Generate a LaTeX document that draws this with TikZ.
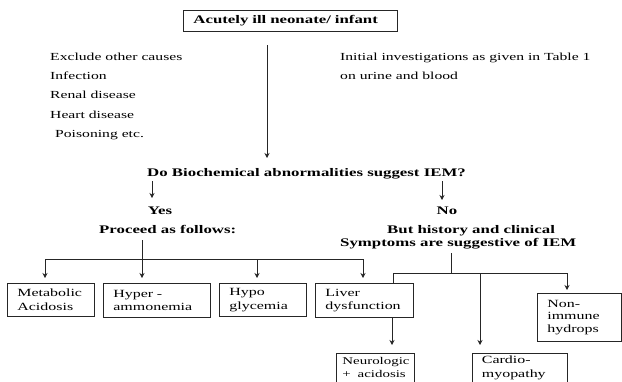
\documentclass[tikz,border=0pt]{standalone}
\usepackage{fontspec}
\setmainfont{Liberation Serif}[FakeStretch=1.45]
\usetikzlibrary{arrows.meta}
\tikzset{
  ln/.style={line width=0.8pt, draw=black!85},
  arr/.style={ln, -{Stealth[length=5pt,width=5pt]}},
  txt/.style={inner sep=0pt, anchor=base west, font=\fontsize{10.8}{13}\selectfont},
  btxt/.style={inner sep=0pt, anchor=base west, font=\fontsize{11.6}{13}\selectfont\bfseries},
  ibox/.style={draw=black!85, line width=0.8pt, anchor=north west, align=left,
    inner xsep=10pt, inner ysep=0pt, font=\fontsize{11}{13.5}\selectfont}
}
\begin{document}
\begin{tikzpicture}[x=1pt,y=-1pt]
\useasboundingbox (0,0) rectangle (622,381);
\clip (0,0) rectangle (622,381);
% top box
\node[ibox, font=\fontsize{11.6}{13}\selectfont\bfseries, minimum width=214pt, minimum height=21pt, text width=194pt] (top) at (183,10) {Acutely ill neonate/ infant};
% left list
\node[txt] (ex) at (50,60) {Exclude other causes};
\node[txt] (inf) at (50,79.3) {Infection};
\node[txt] (ren) at (50,98.6) {Renal disease};
\node[txt] (hrt) at (50,118) {Heart disease};
\node[txt] (poi) at (55,137.3) {Poisoning etc.};
% right list
\node[txt] (ini) at (340,60) {Initial investigations as given in Table 1};
\node[txt] (uri) at (340,79.3) {on urine and blood};
% question
\node[btxt] (q) at (147,176.5) {Do Biochemical abnormalities suggest IEM?};
\coordinate (mainS) at (267,45);
\coordinate (mainE) at (267,158);
\draw[arr] (mainS) -- (mainE);
% yes / no
\node[btxt, anchor=base] (yes) at (160,214) {Yes};
\node[btxt] (proc) at (99,233.3) {Proceed as follows:};
\node[btxt, anchor=base] (no) at (447,214) {No};
\node[btxt] (but1) at (387,233.3) {But history and clinical};
\node[btxt] (but2) at (340,246.3) {Symptoms are suggestive of IEM};
\coordinate (yS) at (152,181);
\coordinate (yE) at (152,198);
\coordinate (nS) at (442,181);
\coordinate (nE) at (442,200);
\draw[arr] (yS) -- (yE);
\draw[arr] (nS) -- (nE);
% boxes row 1
\node[ibox, minimum width=87pt, minimum height=33pt, text width=67pt] (met) at (7,283) {Metabolic\\Acidosis};
\node[ibox, minimum width=107pt, minimum height=34pt, text width=87pt] (hyp) at (103,283) {Hyper -\\ammonemia};
\node[ibox, minimum width=87pt, minimum height=33pt, text width=67pt] (gly) at (219,283) {Hypo\\glycemia};
\node[ibox, minimum width=98pt, minimum height=34pt, text width=78pt] (liv) at (315,283) {Liver\\dysfunction};
\node[ibox, font=\fontsize{11}{12.6}\selectfont, minimum width=84pt, minimum height=48pt, text width=64pt] (non) at (537,293) {Non-\\immune\\hydrops};
\node[ibox, font=\fontsize{10.3}{13}\selectfont, inner xsep=6pt, minimum width=78pt, minimum height=29pt, text width=66pt] (neu) at (336,353) {Neurologic\\+\ \ acidosis};
\node[ibox, minimum width=95pt, minimum height=29pt, text width=75pt] (car) at (471.5,353) {Cardio-\\myopathy};
\coordinate (boxbottom) at (0,395);
\draw[ln] (neu.south west) -- (neu.south west |- boxbottom);
\draw[ln] (neu.south east) -- (neu.south east |- boxbottom);
\draw[ln] (car.south west) -- (car.south west |- boxbottom);
\draw[ln] (car.south east) -- (car.south east |- boxbottom);
% left branching
\coordinate (pS) at (142,240);
\coordinate (bL) at (45,259);
\coordinate (bR) at (363,259);
\coordinate (bM) at (257,259);
\coordinate (pE) at (142,278);
\draw[arr] (pS) -- (pE);
\draw[ln] (bL) -- (bR);
\draw[arr, shorten >=5pt] (bL) -- (bL |- met.north);
\draw[arr, shorten >=5pt] (bM) -- (bM |- gly.north);
\draw[arr, shorten >=5pt] (bR) -- (bR |- liv.north);
% right branching
\coordinate (sS) at (451,253);
\coordinate (sB) at (451,273);
\coordinate (rL) at (393,273);
\coordinate (rM) at (480,273);
\coordinate (rR) at (567,273);
\draw[ln] (sS) -- (sB);
\draw[ln] (rL) -- (rR);
\draw[ln] (rL) -- (rL |- liv.north);
\draw[arr, shorten >=8pt] (rM) -- (rM |- car.north);
\draw[arr, shorten >=3pt] (rR) -- (rR |- non.north);
\coordinate (lv) at (392,317);
\draw[arr, shorten >=8pt] (lv) -- (lv |- neu.north);
\end{tikzpicture}
\end{document}
